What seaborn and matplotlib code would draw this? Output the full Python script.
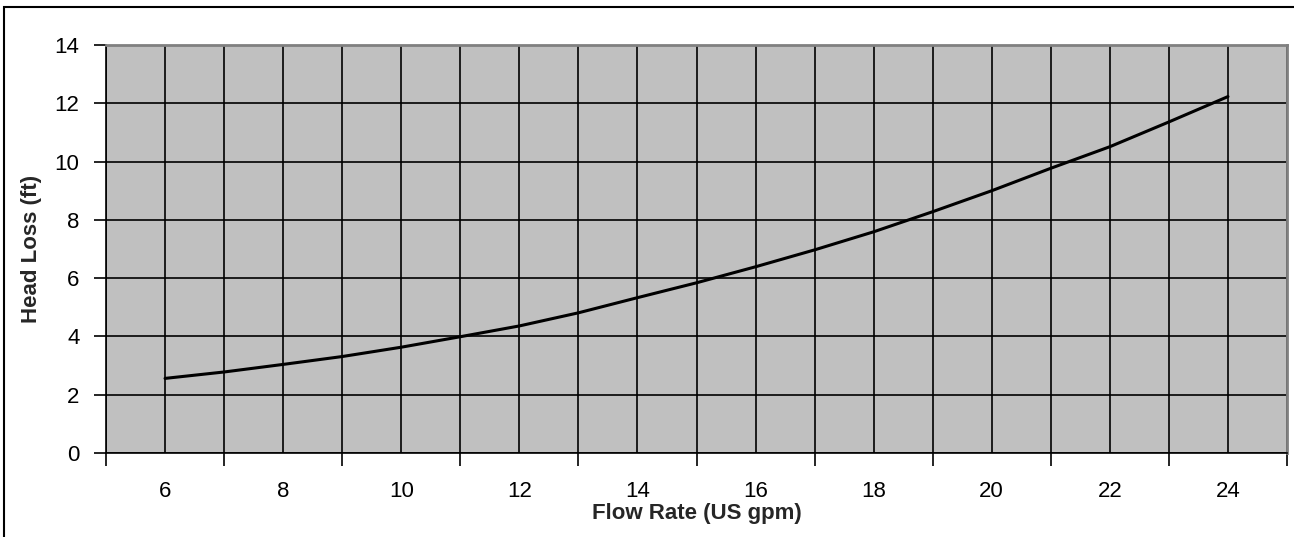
# head loss vs flow rate, excel style chart
import matplotlib
matplotlib.use("Agg")
import matplotlib.pyplot as plt
from matplotlib.patches import Rectangle
import pandas as pd
import seaborn as sns

# data
flow_gpm = [6, 7, 8, 9, 10, 11, 12, 13, 14, 15, 16, 17, 18, 19, 20, 21, 22, 23, 24]
head_loss_ft = [2.56, 2.78, 3.04, 3.31, 3.63, 3.99, 4.36, 4.81, 5.33, 5.84,
                6.39, 6.97, 7.59, 8.28, 9.00, 9.77, 10.51, 11.36, 12.23]
x_labels = [6, 8, 10, 12, 14, 16, 18, 20, 22, 24]
y_ticks = [0, 2, 4, 6, 8, 10, 12, 14]

df = pd.DataFrame({"Flow Rate (US gpm)": flow_gpm, "Head Loss (ft)": head_loss_ft})

sns.set_style("ticks")
plt.rcParams["font.family"] = ["Liberation Sans", "DejaVu Sans"]

fig = plt.figure(figsize=(12.94, 5.37), dpi=100)
ax = fig.add_axes([106 / 1294, 84 / 537, 1181 / 1294, 408 / 537])
ax.set_facecolor("#C0C0C0")

sns.lineplot(data=df, x="Flow Rate (US gpm)", y="Head Loss (ft)", color="black",
             linewidth=2.2, ax=ax, zorder=5)

ax.set_xlim(5, 25)
ax.set_ylim(0, 14)

# labels on even values, tick marks on odd values
ax.set_xticks(x_labels)
ax.set_xticklabels([str(v) for v in x_labels])
ax.set_xticks(list(range(5, 26, 2)), minor=True)
ax.tick_params(axis="x", which="major", length=0, pad=20, labelsize=16, colors="black")
ax.tick_params(axis="x", which="minor", length=9, width=1.2, direction="out", color="black")
ax.set_yticks(y_ticks)
ax.tick_params(axis="y", which="major", length=9, width=1.2, pad=10, labelsize=16, colors="black")

ax.grid(True, axis="x", which="both", color="black", linewidth=1.2)
ax.grid(True, axis="y", which="major", color="black", linewidth=1.2)
ax.set_axisbelow(True)

for side in ["left", "bottom"]:
    ax.spines[side].set_color("black")
    ax.spines[side].set_linewidth(1.2)
for side in ["top", "right"]:
    ax.spines[side].set_visible(True)
    ax.spines[side].set_color("#808080")
    ax.spines[side].set_linewidth(2.0)

ax.set_xlabel("Flow Rate (US gpm)", fontsize=16, fontweight="bold", labelpad=1)
ax.set_ylabel("Head Loss (ft)", fontsize=16, fontweight="bold", labelpad=9)

# outer chart border
fig.patches.append(Rectangle((4 / 1294, -0.1), 1.2, (530 / 537) + 0.1,
                             transform=fig.transFigure, fill=False,
                             edgecolor="black", linewidth=1.5))

fig.savefig("out.png", dpi=100)
